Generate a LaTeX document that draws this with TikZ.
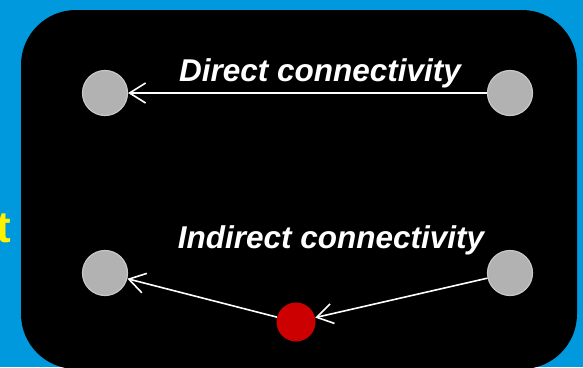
\documentclass[tikz,border=0pt]{standalone}
\usepackage{fontspec}
\setmainfont{Liberation Sans}
\usetikzlibrary{arrows.meta}
\definecolor{bgblue}{RGB}{0,153,221}
\definecolor{dotgray}{RGB}{178,178,178}
\definecolor{dotedge}{RGB}{200,200,200}
\definecolor{dotred}{RGB}{204,0,0}
\begin{document}
\begin{tikzpicture}[x=1pt,y=-1pt,
  graydot/.style={circle,fill=dotgray,draw=dotedge,line width=1.2pt,minimum size=45pt,inner sep=0pt},
  reddot/.style={circle,fill=dotred,minimum size=39pt,inner sep=0pt},
  conn/.style={draw=white,line width=1.6pt,-{Straight Barb[length=16pt,width=20pt,line width=1.6pt]}},
  lbl/.style={text=white,font=\fontsize{31.5}{36}\selectfont\bfseries\itshape,inner sep=0pt,anchor=base}]
\fill[bgblue] (0,0) rectangle (583,367);
\useasboundingbox (0,0) rectangle (583,367);
\fill[black,rounded corners=55pt] (21,10) rectangle (577,369);
\node[text=yellow,font=\fontsize{44}{50}\selectfont\bfseries,inner sep=0pt,anchor=base east] (tt) at (11,242) {t};
\node[graydot] (a1) at (105,93) {};
\node[graydot] (b1) at (510,93) {};
\node[graydot] (a2) at (105,273) {};
\node[graydot] (b2) at (510,273) {};
\node[reddot] (r) at (296,322) {};
\draw[conn] (b1) -- (a1);
\draw[conn] (b2) -- (r);
\draw[conn] (r) -- (a2);
\node[lbl] (t1) at (320,81) {Direct connectivity};
\node[lbl] (t2) at (331,248) {Indirect connectivity};
\end{tikzpicture}
\end{document}
